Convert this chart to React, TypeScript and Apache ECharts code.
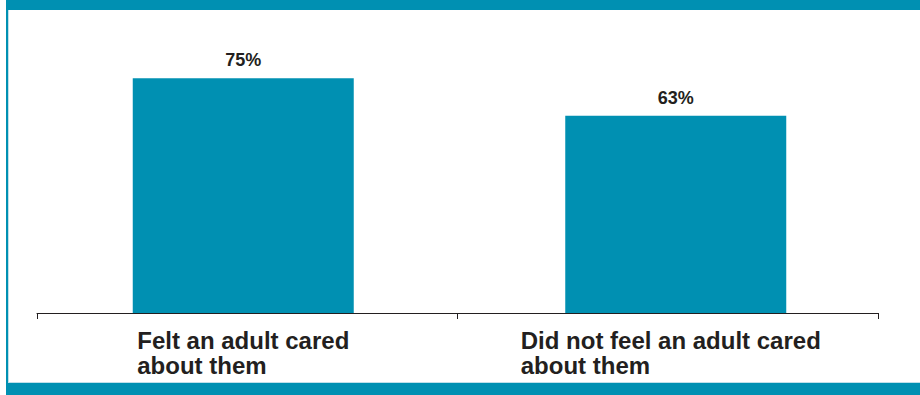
import React, { useEffect, useRef } from "react";
import * as echarts from "echarts";

const categories = ["Felt an adult cared\nabout them", "Did not feel an adult cared\nabout them"];
const values = [75, 63];
const labelShift = [-110, -147];

const TEAL = "#0090B2";
const FONT = "Liberation Sans, Arial, sans-serif";

export default function App() {
  const ref = useRef<HTMLDivElement>(null);
  useEffect(() => {
    document.body.style.margin = "0";
    const chart = echarts.init(ref.current!, null, { renderer: "svg" });
    const labelStyle = {
      align: "left",
      color: "#231F20",
      fontFamily: FONT,
      fontWeight: "bold",
      fontSize: 24,
      lineHeight: 25,
    };
    chart.setOption({
      animation: false,
      grid: [
        { left: 27, right: 28, top: 0, bottom: 82 },
        { left: 37, right: 42, top: 0, bottom: 82 },
      ],
      xAxis: [
        { type: "category", gridIndex: 0, data: categories, show: false },
        {
          type: "category",
          gridIndex: 1,
          offset: 5,
          data: categories.map((c, i) => ({
            value: c,
            textStyle: { ...labelStyle, padding: [0, 0, 0, labelShift[i]] },
          })),
          axisLine: { lineStyle: { color: "#231F20", width: 1 } },
          axisTick: { show: true, length: 6, lineStyle: { color: "#231F20" } },
          axisLabel: { ...labelStyle, margin: 10 },
        },
      ],
      yAxis: [
        { type: "value", gridIndex: 0, min: 0, max: 100, show: false, splitLine: { show: false } },
        { type: "value", gridIndex: 1, min: 0, max: 100, show: false, splitLine: { show: false } },
      ],
      series: [
        {
          type: "bar",
          xAxisIndex: 0,
          yAxisIndex: 0,
          data: values,
          barWidth: 221,
          itemStyle: { color: TEAL },
          label: {
            show: true,
            position: "top",
            distance: 9,
            formatter: "{c}%",
            color: "#231F20",
            fontFamily: FONT,
            fontWeight: "bold",
            fontSize: 18,
          },
        },
      ],
    });
    return () => chart.dispose();
  }, []);
  return (
    <div style={{ position: "absolute", left: 0, top: 0, width: 920, height: 395, background: "#fff" }}>
      <div
        style={{
          position: "absolute",
          left: 6,
          top: 0,
          width: 914,
          height: 383,
          boxSizing: "border-box",
          borderTop: `10px solid ${TEAL}`,
          borderLeft: `2px solid ${TEAL}`,
        }}
      >
        <div style={{ position: "absolute", left: 0, top: 0, bottom: 0, width: 1, background: "#BFE0EA" }} />
        <div style={{ position: "absolute", left: 0, right: 0, bottom: 0, height: 1, background: "#BFE0EA" }} />
      </div>
      <div style={{ position: "absolute", left: 6, top: 383, width: 914, height: 12, background: TEAL }} />
      <div ref={ref} style={{ position: "absolute", left: 0, top: 0, width: 920, height: 395 }} />
    </div>
  );
}
